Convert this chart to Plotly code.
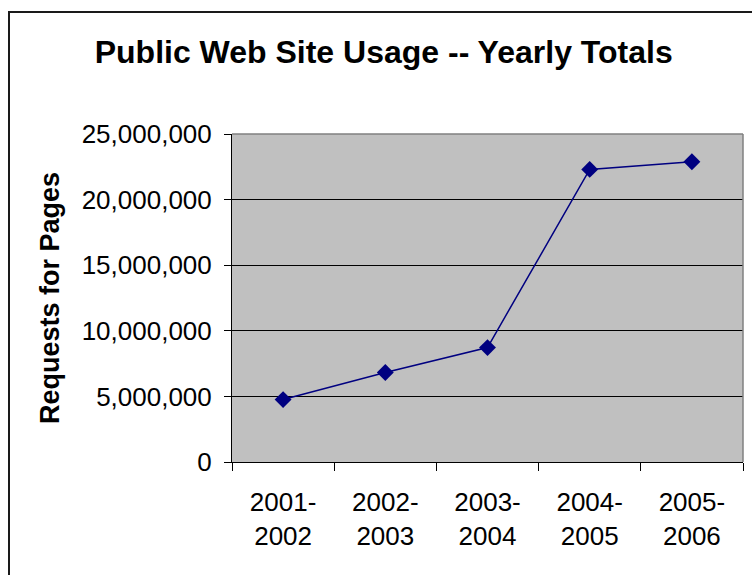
import plotly.graph_objects as go

categories = ["2001-<br>2002", "2002-<br>2003", "2003-<br>2004", "2004-<br>2005", "2005-<br>2006"]
requests = [4756000, 6816000, 8720000, 22300000, 22890000]
y_ticks = [0, 5000000, 10000000, 15000000, 20000000, 25000000]

FONT = "Liberation Sans, Arial, sans-serif"

fig = go.Figure()
fig.add_trace(go.Scatter(
    x=categories, y=requests, mode="lines+markers",
    line=dict(color="#000080", width=1.5),
    marker=dict(symbol="diamond", size=13, color="#000080"),
    showlegend=False, cliponaxis=False,
))

fig.update_layout(
    width=752, height=575,
    margin=dict(l=232, r=9, t=134, b=113),
    paper_bgcolor="white", plot_bgcolor="#C0C0C0",
    font=dict(family=FONT, color="black", size=26),
    title=dict(text="<b>Public Web Site Usage -- Yearly Totals</b>",
               x=383.7 / 752, xanchor="center", xref="container",
               y=1 - 52 / 575, yanchor="middle", yref="container",
               font=dict(size=32, family=FONT, color="black")),
)
fig.update_xaxes(
    type="category", tickson="boundaries", ticks="outside", ticklen=8,
    tickcolor="black", showline=True, linecolor="black", linewidth=1,
    showgrid=False, tickfont=dict(size=26), range=[-0.5, 4.5],
    ticklabelstandoff=17,
)
fig.update_yaxes(
    range=[0, 25000000], tickvals=y_ticks, tickformat=",d",
    ticks="outside", ticklen=7, tickcolor="black",
    showline=True, linecolor="black", linewidth=1,
    showgrid=True, gridcolor="black", gridwidth=1, zeroline=False,
    tickfont=dict(size=26), ticklabelstandoff=7,
    title=dict(text="<b>Requests for Pages</b>", font=dict(size=27), standoff=14),
)
# plot area border (top/right grey)
fig.add_shape(type="line", xref="paper", yref="paper", x0=0, x1=1, y0=1, y1=1,
              line=dict(color="#808080", width=1.5))
fig.add_shape(type="line", xref="paper", yref="paper", x0=1, x1=1, y0=0, y1=1,
              line=dict(color="#808080", width=1.5))
# outer chart border
px = lambda v: (v - 232) / 511
py = lambda v: (462 - v) / 328
fig.add_shape(type="rect", xref="paper", yref="paper",
              x0=px(9), x1=px(770), y0=py(590), y1=py(12),
              line=dict(color="#1a1a1a", width=2))

fig.write_html("out.html")
